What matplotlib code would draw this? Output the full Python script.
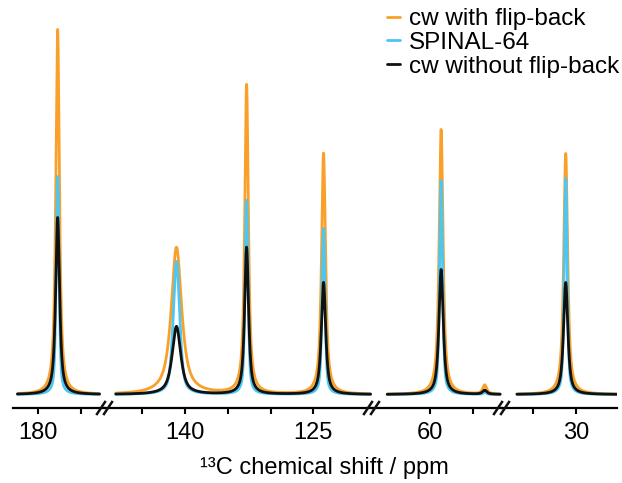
import numpy as np
import matplotlib
matplotlib.use("Agg")
import matplotlib.pyplot as plt
from matplotlib.lines import Line2D

plt.rcParams['font.family'] = ['Liberation Sans', 'DejaVu Sans']

# peak list (ppm, intensity in arbitrary units)
peak_ppm = [177.7, 141.0, 132.8, 123.8, 58.7, 53.6, 31.2]
cw_fb_height = [365, 147, 309, 241, 265, 9, 241]
spinal_height = [218, 133, 194, 166, 214, 2, 216]
cw_nofb_height = [177, 68, 147, 112, 125, 4, 112]

# full widths at half height (ppm)
cw_fb_width = [0.5, 1.45, 0.5, 0.55, 0.55, 0.55, 0.55]
spinal_width = [0.4, 0.9, 0.42, 0.42, 0.42, 0.42, 0.42]
cw_nofb_width = [0.55, 1.2, 0.55, 0.6, 0.6, 0.6, 0.6]

# lorentzian fraction of the line shape
cw_fb_eta = 0.85
spinal_eta = 0.55
cw_nofb_eta = 0.8

labels = ['cw with flip-back', 'SPINAL-64', 'cw without flip-back']
colors = ['#F9A02B', '#4DC6F2', '#111111']

# broken axis segments: (axis limits), (data range), ticks, tick labels
seg_lims = [(182.92, 172.16), (149.36, 118.13), (66.78, 51.58), (38.65, 25.2)]
seg_data = [(182.4, 172.8), (148.1, 118.3), (65.0, 51.8), (36.9, 25.2)]
seg_ticks = [[180, 175], [145, 140, 135, 130, 125], [60, 55], [35, 30]]
seg_ticklabels = [['180', ''], ['', '140', '', '', '125'], ['60', ''], ['', '30']]
seg_px = [(13, 105), (105, 372), (372, 502), (502, 617)]


def lineshape(x, pos, h, w, eta):
    y = np.zeros_like(x)
    for p, a, fw in zip(pos, h, w):
        hw = fw / 2
        lor = hw**2 / ((x - p)**2 + hw**2)
        gau = np.exp(-np.log(2) * ((x - p) / hw)**2)
        y += a * (eta * lor + (1 - eta) * gau)
    return y


W, H = 622, 483
fig = plt.figure(figsize=(W / 100, H / 100), dpi=100)
ax_bottom = 408
ax_top = 10

axes = []
for (x0, x1), lims, drange, ticks, tlabels in zip(seg_px, seg_lims, seg_data, seg_ticks, seg_ticklabels):
    ax = fig.add_axes([x0 / W, (H - ax_bottom) / H, (x1 - x0) / W, (ax_bottom - ax_top) / H])
    x = np.linspace(drange[0], drange[1], 3000)
    series = [
        (cw_fb_height, cw_fb_width, cw_fb_eta),
        (spinal_height, spinal_width, spinal_eta),
        (cw_nofb_height, cw_nofb_width, cw_nofb_eta),
    ]
    for (hts, wds, eta), c, lab in zip(series, colors, labels):
        ax.plot(x, lineshape(x, peak_ppm, hts, wds, eta), color=c, lw=2.0,
                solid_capstyle='round', label=lab)
    ax.set_xlim(*lims)
    ax.set_ylim(-13.5, 384.5)
    ax.set_xticks(ticks)
    ax.set_xticklabels(tlabels)
    ax.tick_params(axis='x', direction='out', length=4, width=1.5, labelsize=17, pad=6)
    ax.set_yticks([])
    for s in ['left', 'right', 'top']:
        ax.spines[s].set_visible(False)
    ax.spines['bottom'].set_linewidth(1.6)
    ax.patch.set_visible(False)
    axes.append(ax)

# break marks on the axis
for bx in [105, 372, 502]:
    for dx in [-4, 3]:
        xs = [(bx + dx - 4) / W, (bx + dx + 4) / W]
        ys = [(H - 414) / H, (H - 402) / H]
        fig.add_artist(Line2D(xs, ys, color='#111111', lw=1.8, transform=fig.transFigure))

fig.text(324 / W, (H - 468) / H, '¹³C chemical shift / ppm', ha='center', va='center', fontsize=17)

handles, labs = axes[0].get_legend_handles_labels()
fig.legend(handles, labs, loc='upper right', bbox_to_anchor=(619 / W, 1 - 8 / H),
           frameon=False, fontsize=17.5, handlelength=0.55, handletextpad=0.35,
           labelspacing=0.08, borderaxespad=0, borderpad=0)

fig.savefig('out.png', dpi=100)
